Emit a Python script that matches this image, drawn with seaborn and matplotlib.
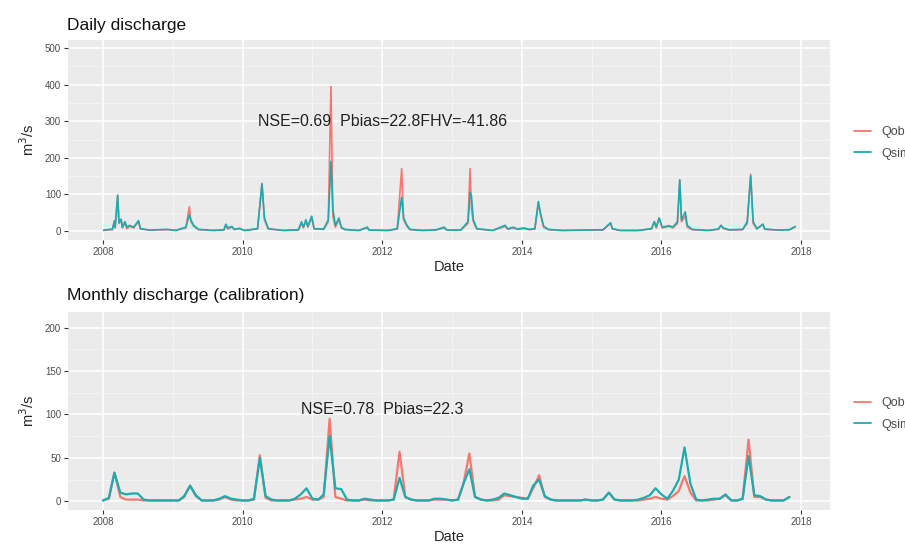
import matplotlib
matplotlib.use("Agg")
import matplotlib.pyplot as plt
import matplotlib.dates as mdates
from matplotlib.lines import Line2D
import seaborn as sns
import pandas as pd

# ---------------- data ----------------
daily_dates = [
    "2008-01-05", "2008-02-20", "2008-03-01", "2008-03-05", "2008-03-18", "2008-03-25",
    "2008-04-05", "2008-04-12", "2008-04-25", "2008-05-05", "2008-05-20", "2008-06-10",
    "2008-07-05", "2008-07-15", "2008-09-01", "2008-12-01", "2009-01-15", "2009-03-10",
    "2009-03-28", "2009-04-05", "2009-04-20", "2009-05-15", "2009-08-01", "2009-09-25",
    "2009-10-05", "2009-10-15", "2009-11-05", "2009-11-20", "2009-12-15", "2010-01-10",
    "2010-03-20", "2010-04-12", "2010-04-25", "2010-05-15", "2010-08-01", "2010-10-20",
    "2010-11-05", "2010-11-15", "2010-11-28", "2010-12-08", "2010-12-28", "2011-01-10",
    "2011-03-01", "2011-03-25", "2011-04-08", "2011-04-18", "2011-05-01", "2011-05-20",
    "2011-06-01", "2011-06-20", "2011-09-01", "2011-10-15", "2011-10-25", "2012-02-01",
    "2012-03-20", "2012-04-12", "2012-04-22", "2012-05-10", "2012-05-25", "2012-08-01",
    "2012-10-10", "2012-11-20", "2012-12-05", "2013-02-15", "2013-03-25", "2013-04-05",
    "2013-04-12", "2013-04-22", "2013-05-10", "2013-08-01", "2013-10-05", "2013-10-20",
    "2013-11-15", "2013-12-10", "2014-01-10", "2014-02-10", "2014-03-10", "2014-03-28",
    "2014-04-10", "2014-04-25", "2014-05-20", "2014-08-01", "2014-12-01", "2015-03-01",
    "2015-04-10", "2015-04-20", "2015-06-01", "2015-09-01", "2015-11-10", "2015-11-25",
    "2015-12-05", "2015-12-20", "2016-01-05", "2016-02-10", "2016-03-01", "2016-03-25",
    "2016-04-06", "2016-04-15", "2016-05-05", "2016-05-15", "2016-06-10", "2016-09-01",
    "2016-10-25", "2016-11-08", "2016-11-20", "2016-12-20", "2017-03-01", "2017-03-25",
    "2017-04-12", "2017-04-25", "2017-05-15", "2017-06-15", "2017-06-25", "2017-09-01",
    "2017-11-01", "2017-12-01",
]
daily_qobs = [
    1, 3, 25, 8, 95, 20, 30, 8, 22, 6, 12, 8,
    25, 5, 2, 3, 1, 8, 66, 25, 12, 3, 1, 2,
    15, 5, 10, 3, 6, 1, 5, 130, 30, 5, 1, 2,
    20, 8, 28, 10, 36, 5, 4, 25, 395, 40, 10, 30,
    8, 3, 1, 8, 2, 1, 5, 170, 30, 12, 3, 1,
    2, 8, 2, 2, 20, 170, 60, 25, 5, 1, 12, 4,
    8, 4, 6, 3, 5, 75, 40, 10, 3, 1, 2, 2,
    20, 5, 1, 1, 5, 25, 8, 35, 8, 12, 8, 20,
    138, 25, 40, 10, 3, 1, 4, 15, 6, 2, 3, 20,
    155, 20, 5, 18, 4, 2, 3, 10,
]
daily_qsim = [
    2, 5, 28, 10, 98, 22, 32, 10, 25, 10, 15, 10,
    28, 6, 2, 4, 1, 10, 44, 30, 15, 4, 1, 3,
    18, 8, 12, 4, 7, 1, 6, 128, 35, 6, 1, 3,
    25, 10, 30, 12, 40, 6, 5, 30, 190, 60, 15, 35,
    10, 4, 1, 10, 2, 1, 6, 92, 35, 15, 4, 1,
    3, 10, 2, 2, 25, 105, 95, 30, 6, 1, 15, 5,
    10, 5, 8, 4, 6, 80, 45, 12, 4, 1, 2, 3,
    22, 6, 1, 1, 6, 25, 10, 35, 10, 14, 10, 25,
    140, 30, 52, 15, 4, 1, 5, 15, 8, 3, 4, 25,
    150, 25, 6, 18, 5, 2, 3, 12,
]

monthly_start = "2008-01-01"
monthly_end = "2017-11-01"
monthly_qobs = [
    # 2008
    1, 3, 33, 5, 2, 2, 2, 1, 1, 1, 1, 1,
    # 2009
    1, 1, 5, 18, 6, 1, 1, 1, 2, 5, 2, 1,
    # 2010
    1, 1, 2, 53, 4, 1, 1, 1, 1, 2, 3, 5,
    # 2011
    2, 2, 5, 95, 5, 3, 1, 1, 1, 2, 1, 1,
    # 2012
    1, 1, 2, 57, 5, 2, 1, 1, 1, 2, 2, 2,
    # 2013
    1, 2, 20, 55, 5, 2, 1, 1, 2, 7, 6, 5,
    # 2014
    4, 3, 15, 30, 5, 2, 1, 1, 1, 1, 1, 2,
    # 2015
    1, 1, 2, 10, 2, 1, 1, 1, 1, 2, 3, 5,
    # 2016
    3, 2, 6, 12, 29, 10, 1, 1, 1, 2, 3, 7,
    # 2017
    1, 1, 3, 71, 5, 5, 2, 1, 1, 1, 5,
]
monthly_qsim = [
    # 2008
    1, 4, 33, 10, 8, 9, 9, 2, 1, 1, 1, 1,
    # 2009
    1, 1, 6, 18, 7, 1, 1, 1, 3, 6, 3, 2,
    # 2010
    1, 1, 3, 50, 6, 2, 1, 1, 1, 3, 8, 15,
    # 2011
    3, 2, 8, 75, 15, 14, 2, 1, 1, 3, 2, 1,
    # 2012
    1, 1, 2, 27, 5, 2, 1, 1, 1, 3, 3, 2,
    # 2013
    1, 2, 20, 37, 5, 2, 1, 2, 4, 9, 7, 5,
    # 2014
    3, 3, 18, 25, 6, 2, 1, 1, 1, 1, 1, 2,
    # 2015
    1, 1, 2, 10, 2, 1, 1, 1, 2, 4, 7, 15,
    # 2016
    8, 3, 12, 25, 62, 20, 2, 1, 2, 3, 3, 8,
    # 2017
    1, 1, 3, 52, 7, 6, 2, 1, 1, 1, 5,
]

series_labels = ["Qobs", "Qsim"]
series_colors = ["#F8766D", "#19ADB0"]
daily_title = "Daily discharge"
monthly_title = "Monthly discharge (calibration)"
daily_note = "NSE=0.69  Pbias=22.8FHV=-41.86"
monthly_note = "NSE=0.78  Pbias=22.3"

monthly_dates = pd.date_range(monthly_start, monthly_end, freq="MS")

daily_df = pd.DataFrame({
    "Date": pd.to_datetime(daily_dates * 2),
    "Q": daily_qobs + daily_qsim,
    "variable": ["Qobs"] * len(daily_dates) + ["Qsim"] * len(daily_dates),
})
monthly_df = pd.DataFrame({
    "Date": list(monthly_dates) * 2,
    "Q": monthly_qobs + monthly_qsim,
    "variable": ["Qobs"] * len(monthly_dates) + ["Qsim"] * len(monthly_dates),
})

# ---------------- style ----------------
sns.set_theme(style="darkgrid", rc={
    "axes.facecolor": "#EBEBEB",
    "grid.color": "white",
    "axes.edgecolor": "#EBEBEB",
})
plt.rcParams["font.family"] = ["Liberation Sans", "DejaVu Sans"]

fig = plt.figure(figsize=(9.05, 5.58), dpi=100)
ax1 = fig.add_axes([0.0751, 0.570, 0.842, 0.358])
ax2 = fig.add_axes([0.0751, 0.086, 0.842, 0.355])

palette = dict(zip(series_labels, series_colors))


def style_axis(ax, ylim, yticks, yminor):
    ax.set_xlim(pd.Timestamp("2007-07-02"), pd.Timestamp("2018-06-01"))
    ax.set_ylim(*ylim)
    ax.set_yticks(yticks)
    ax.set_yticks(yminor, minor=True)
    ax.xaxis.set_major_locator(mdates.YearLocator(2))
    ax.xaxis.set_minor_locator(mdates.YearLocator(1))
    ax.xaxis.set_major_formatter(mdates.DateFormatter("%Y"))
    ax.grid(True, which="major", color="white", linewidth=1.1)
    ax.grid(True, which="minor", color="#F5F5F5", linewidth=0.6)
    ax.tick_params(axis="both", which="major", labelsize=7, labelcolor="#4D4D4D",
                   length=3, width=0.8, color="#333333", pad=2, bottom=True, left=True)
    ax.tick_params(axis="both", which="minor", length=0)
    for s in ax.spines.values():
        s.set_visible(False)
    ax.set_xlabel("Date", fontsize=10.5, labelpad=2)
    ax.set_ylabel(r"m$^{3}$/s", fontsize=10.5, labelpad=6)


sns.lineplot(data=daily_df, x="Date", y="Q", hue="variable", palette=palette,
             linewidth=1.2, ax=ax1, legend=False, estimator=None)
sns.lineplot(data=monthly_df, x="Date", y="Q", hue="variable", palette=palette,
             linewidth=1.6, ax=ax2, legend=False, estimator=None)

style_axis(ax1, (-25, 522), [0, 100, 200, 300, 400, 500], [50, 150, 250, 350, 450])
style_axis(ax2, (-10, 218), [0, 50, 100, 150, 200], [25, 75, 125, 175])

ax1.text(pd.Timestamp("2012-01-01"), 300, daily_note,
         ha="center", va="center", fontsize=11.5, color="#222222")
ax2.text(pd.Timestamp("2012-01-01"), 106, monthly_note,
         ha="center", va="center", fontsize=11.5, color="#222222")

fig.text(0.074, 0.955, daily_title, fontsize=12.5, ha="left", va="center", color="#111111")
fig.text(0.074, 0.470, monthly_title, fontsize=12.5, ha="left", va="center", color="#111111")

handles = [Line2D([0], [0], color=c, linewidth=1.3) for c in series_colors]
for yc in [1 - 143 / 558, 1 - 414 / 558]:
    leg = fig.legend(handles, series_labels, loc="center left",
                     bbox_to_anchor=(0.944, yc), frameon=False, fontsize=9,
                     handlelength=1.3, handletextpad=0.9, labelspacing=0.75,
                     borderaxespad=0, borderpad=0)
    for t in leg.get_texts():
        t.set_color("#4D4D4D")

fig.savefig("out.png", dpi=100)
